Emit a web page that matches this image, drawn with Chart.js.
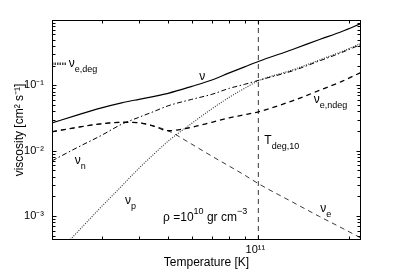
<!DOCTYPE html>
<html>
<head>
<meta charset="utf-8">
<script src="https://cdn.jsdelivr.net/npm/chart.js@4"></script>
<style>
html,body{margin:0;padding:0;background:#fff;}
#wrap{width:399px;height:272px;position:relative;}
</style>
</head>
<body>
<div id="wrap"><canvas id="c" width="399" height="272"></canvas></div>
<script>
// ---- data ----
const temperature = [2.05e10, 2.5e10, 3e10, 3.5e10, 4e10, 4.5e10, 5e10, 6e10, 7e10, 8e10, 9e10, 1e11, 1.3e11, 1.6e11, 1.9e11, 2.2e11];
const nuTotal = [0.0266, 0.0354, 0.0453, 0.0540, 0.0611, 0.0679, 0.0755, 0.0965, 0.121, 0.155, 0.192, 0.232, 0.354, 0.504, 0.668, 0.884];
const nuN     = [0.00699, 0.0113, 0.0172, 0.0254, 0.0325, 0.0401, 0.0486, 0.0611, 0.0729, 0.090, 0.1036, 0.1192, 0.1665, 0.2366, 0.319, 0.423];
const temperatureP = [2.3e10, 2.5e10, 3e10, 3.5e10, 4e10, 4.5e10, 5e10, 6e10, 7e10, 8e10, 9e10, 1e11, 1.3e11, 1.6e11, 1.9e11, 2.2e11];
const nuP     = [3.87e-4, 5.80e-4, 1.396e-3, 2.87e-3, 5.40e-3, 9.00e-3, 0.01396, 0.02629, 0.04377, 0.0656, 0.090, 0.1171, 0.1724, 0.245, 0.330, 0.4377];
const nuEndeg = [0.0195, 0.02284, 0.02584, 0.02723, 0.02676, 0.02366, 0.0202, 0.02284, 0.02723, 0.0319, 0.03544, 0.03938, 0.058, 0.0839, 0.1151, 0.1579];
const nuE     = [0.0195, 0.02284, 0.02584, 0.02723, 0.02676, 0.02366, 0.0202, 0.01257, 0.00824, 0.0058, 0.00423, 0.003134, 0.001636, 0.000983, 0.000656, 0.000461];
const degMarkT = [2.05e10, 2.3e10];
const degMarkNu = [0.214, 0.214];
const tDegT = [1e11, 1e11];
const tDegNu = [4.3e-4, 1];

const xRange = [2.05e10, 2.2e11];
const yRange = [4.3e-4, 1];
const xMajorTicks = [1e11];
const xTickLabels = ['10¹¹'];
const yMajorTicks = [1e-3, 1e-2, 1e-1];
const yTickLabels = ['10⁻³', '10⁻²', '10⁻¹'];
const xTitle = 'Temperature [K]';
const yTitle = 'viscosity [cm² s⁻¹]';

// text labels: position in data units, parts [text, 0 main | 1 sub | -1 sup]
const annotations = [
  {T: 6.35e10, v: 0.119,   parts: [['ν', 0]]},
  {T: 2.33e10, v: 0.188,   parts: [['ν', 0], ['e,deg', 1]]},
  {T: 2.44e10, v: 6.34e-3, parts: [['ν', 0], ['n', 1]]},
  {T: 3.59e10, v: 1.52e-3, parts: [['ν', 0], ['p', 1]]},
  {T: 1.53e11, v: 0.0531,  parts: [['ν', 0], ['e,ndeg', 1]]},
  {T: 1.61e11, v: 1.15e-3, parts: [['ν', 0], ['e', 1]]},
  {T: 1.047e11, v: 0.01256, parts: [['T', 0], ['deg,10', 1]]},
  {T: 4.81e10, v: 8.4e-4,  parts: [['ρ =10', 0], ['10', -1], [' gr cm', 0], ['−3', -1]]}
];

const FONT = '"Liberation Sans", Arial, Helvetica, sans-serif';
const pts = (xs, ys) => xs.map((x, i) => ({x: x, y: ys[i]}));

function tickList(min, max) {
  const out = [];
  for (let e = Math.floor(Math.log10(min)); e <= Math.ceil(Math.log10(max)); e++) {
    for (let m = 1; m <= 9; m++) {
      const v = m * Math.pow(10, e);
      if (v >= min * 0.9999 && v <= max * 1.0001) out.push({value: v, major: m === 1});
    }
  }
  return out;
}
function labelFor(value, majors, labels) {
  const i = majors.findIndex(t => Math.abs(t - value) / t < 1e-6);
  return i >= 0 ? labels[i] : '';
}

const base = {pointRadius: 0, pointHoverRadius: 0, fill: false, borderColor: '#000', cubicInterpolationMode: 'monotone'};

const datasets = [
  Object.assign({}, base, {label: 'nu', data: pts(temperature, nuTotal), borderWidth: 1.2}),
  Object.assign({}, base, {label: 'nu_n', data: pts(temperature, nuN), borderWidth: 1, borderDash: [5, 2.5, 1.5, 2.5]}),
  Object.assign({}, base, {label: 'nu_p', data: pts(temperatureP, nuP), borderWidth: 1.1, borderColor: '#333', borderDash: [1, 1.4]}),
  Object.assign({}, base, {label: 'nu_e,ndeg', data: pts(temperature, nuEndeg), borderWidth: 1.3, borderDash: [5, 4]}),
  Object.assign({}, base, {label: 'nu_e', data: pts(temperature, nuE), borderWidth: 0.9, borderColor: '#222', borderDash: [5, 4]}),
  Object.assign({}, base, {label: 'nu_e,deg', data: pts(degMarkT, degMarkNu), borderWidth: 2.5, borderColor: '#444', borderDash: [1.5, 1], cubicInterpolationMode: 'default', tension: 0}),
  Object.assign({}, base, {label: 'T_deg,10', data: pts(tDegT, tDegNu), borderWidth: 0.9, borderColor: '#222', borderDash: [5, 4], cubicInterpolationMode: 'default', tension: 0})
];

const overlay = {
  id: 'overlay',
  afterDatasetsDraw(chart) {
    const {ctx, chartArea: a, scales} = chart;
    const xs = scales.x, ys = scales.y;
    ctx.save();
    ctx.strokeStyle = '#000';
    ctx.lineWidth = 1;
    const L = Math.round(a.left) + 0.5, R = Math.round(a.right) - 0.5;
    const Tp = Math.round(a.top) + 0.5, B = Math.round(a.bottom) - 0.5;
    ctx.strokeRect(L, Tp, R - L, B - Tp);
    ctx.beginPath();
    ys.ticks.forEach(t => {
      const p = Math.round(ys.getPixelForValue(t.value)) + 0.5;
      const len = t.major ? 4 : 3;
      ctx.moveTo(L, p); ctx.lineTo(L + len, p);
      ctx.moveTo(R, p); ctx.lineTo(R - len, p);
    });
    xs.ticks.forEach(t => {
      const p = Math.round(xs.getPixelForValue(t.value)) + 0.5;
      const len = t.major ? 4 : 3;
      ctx.moveTo(p, B); ctx.lineTo(p, B - len);
      ctx.moveTo(p, Tp); ctx.lineTo(p, Tp + len);
    });
    ctx.stroke();

    // annotations
    ctx.fillStyle = '#000';
    ctx.textBaseline = 'alphabetic';
    ctx.textAlign = 'left';
    annotations.forEach(an => {
      let px = xs.getPixelForValue(an.T);
      const py = ys.getPixelForValue(an.v);
      an.parts.forEach(([txt, kind]) => {
        const size = kind === 0 ? 12 : 9;
        ctx.font = size + 'px ' + FONT;
        const dy = kind === 1 ? 5 : (kind === -1 ? -7 : 0);
        ctx.fillText(txt, px, py + dy);
        px += ctx.measureText(txt).width;
      });
    });
    ctx.restore();
  }
};

new Chart(document.getElementById('c'), {
  type: 'line',
  data: {datasets: datasets},
  options: {
    responsive: false,
    animation: false,
    events: [],
    layout: {padding: {left: 0, top: 20, right: 38, bottom: 0}},
    plugins: {legend: {display: false}, tooltip: {enabled: false}},
    scales: {
      x: {
        type: 'logarithmic', min: xRange[0], max: xRange[1], bounds: 'data',
        grid: {display: false, drawTicks: false, tickLength: 0},
        border: {display: false},
        afterBuildTicks: s => { s.ticks = tickList(xRange[0], xRange[1]); },
        afterFit: s => { s.height = 32; },
        ticks: {autoSkip: false, maxRotation: 0, padding: 3, labelOffset: -3, color: '#000',
          font: {family: FONT, size: 11},
          callback: v => labelFor(v, xMajorTicks, xTickLabels)},
        title: {display: true, text: xTitle, color: '#000', font: {family: FONT, size: 12}, padding: {top: 0, bottom: 2}}
      },
      y: {
        type: 'logarithmic', min: yRange[0], max: yRange[1], bounds: 'data',
        grid: {display: false, drawTicks: false, tickLength: 0},
        border: {display: false},
        afterBuildTicks: s => { s.ticks = tickList(yRange[0], yRange[1]); },
        afterFit: s => { s.width = 52; },
        ticks: {autoSkip: false, padding: 8, color: '#000',
          font: {family: FONT, size: 11},
          callback: v => labelFor(v, yMajorTicks, yTickLabels)},
        title: {display: true, text: yTitle, color: '#000', font: {family: FONT, size: 12}, padding: {top: 12, bottom: 0}}
      }
    }
  },
  plugins: [overlay]
});
</script>
</body>
</html>
